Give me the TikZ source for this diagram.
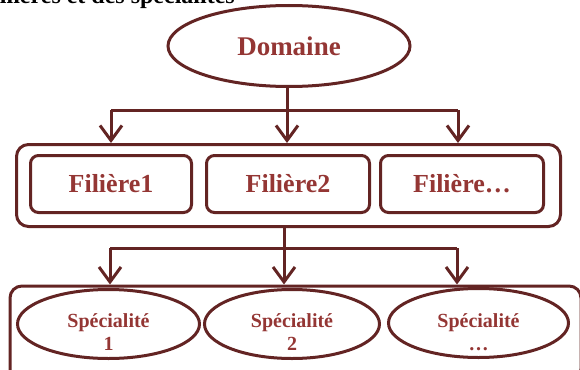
\documentclass[tikz,border=0pt]{standalone}
\usepackage{fontspec}
\setmainfont{Liberation Serif}
\usetikzlibrary{shapes.geometric,arrows.meta,calc}
\definecolor{lineC}{HTML}{632423}
\definecolor{textC}{HTML}{943634}
\tikzset{
  conn/.style={draw=lineC,line width=3pt},
  arr/.style={conn,-{Straight Barb[length=15pt,width=22pt,line width=3pt]}},
  oval/.style={ellipse,draw=lineC,line width=3pt,inner sep=0pt},
  bigbox/.style={rectangle,draw=lineC,line width=3pt,rounded corners=12pt,inner sep=0pt},
  fbox/.style={rectangle,draw=lineC,line width=3pt,rounded corners=8pt,inner sep=0pt,
     minimum height=57pt,text=textC,font=\bfseries\fontsize{26}{28}\selectfont},
  stext/.style={text=textC,align=center,font=\bfseries\fontsize{20}{22.5}\selectfont},
}
\begin{document}
\begin{tikzpicture}[x=1pt,y=-1pt]
\useasboundingbox (0,0) rectangle (580,369);
\clip (0,0) rectangle (580,369);
% title (cut off at top)
\node[anchor=base east,inner sep=0pt,font=\bfseries\fontsize{24}{26}\selectfont] (title) at (235,4) {filières et des spécialités};
% Domaine
\node[oval,minimum width=242pt,minimum height=81pt,text=textC,font=\bfseries\fontsize{27}{29}\selectfont] (dom) at (289,46) {Domaine};
% Filières
\node[bigbox,minimum width=544pt,minimum height=82pt] (out1) at (288.5,185.5) {};
\node[fbox,minimum width=161pt] (f1) at (111,184) {Filière1};
\node[fbox,minimum width=163pt] (f2) at (288,184) {Filière2};
\node[fbox,minimum width=163pt] (f3) at (462,184) {Filière…};
% Spécialités
\node[bigbox,minimum width=571pt,minimum height=95pt,anchor=north west] (out2) at (8.5,284.5) {};
\node[oval,minimum width=182pt,minimum height=69pt] (s1) at (108.5,324) {};
\node[oval,minimum width=175pt,minimum height=69pt] (s2) at (292,324) {};
\node[oval,minimum width=180pt,minimum height=69pt] (s3) at (478.5,323) {};
\node[stext] (t1) at (108.5,332) {Spécialité\\1};
\node[stext] (t2) at (292,332) {Spécialité\\2};
\node[stext] (t3) at (478.5,332) {Spécialité\\…};
% connectors level 1
\coordinate (h0) at (287,110);
\coordinate (h1) at (111,110);
\coordinate (h3) at (458,110);
\draw[conn] (dom.south -| h0) -- (h0);
\draw[conn] (h1) -- (h3);
\draw[arr] (h1) -- (h1 |- out1.north);
\draw[arr] (h0) -- (h0 |- out1.north);
\draw[arr] (h3) -- (h3 |- out1.north);
% connectors level 2
\coordinate (g0) at (284,248);
\coordinate (g1) at (110,248);
\coordinate (g3) at (457,248);
\draw[conn] (out1.south -| g0) -- (g0);
\draw[conn] (g1) -- (g3);
\draw[arr] (g1) -- (g1 |- out2.north);
\draw[arr] (g0) -- (g0 |- out2.north);
\draw[arr] (g3) -- (g3 |- out2.north);
\end{tikzpicture}
\end{document}
